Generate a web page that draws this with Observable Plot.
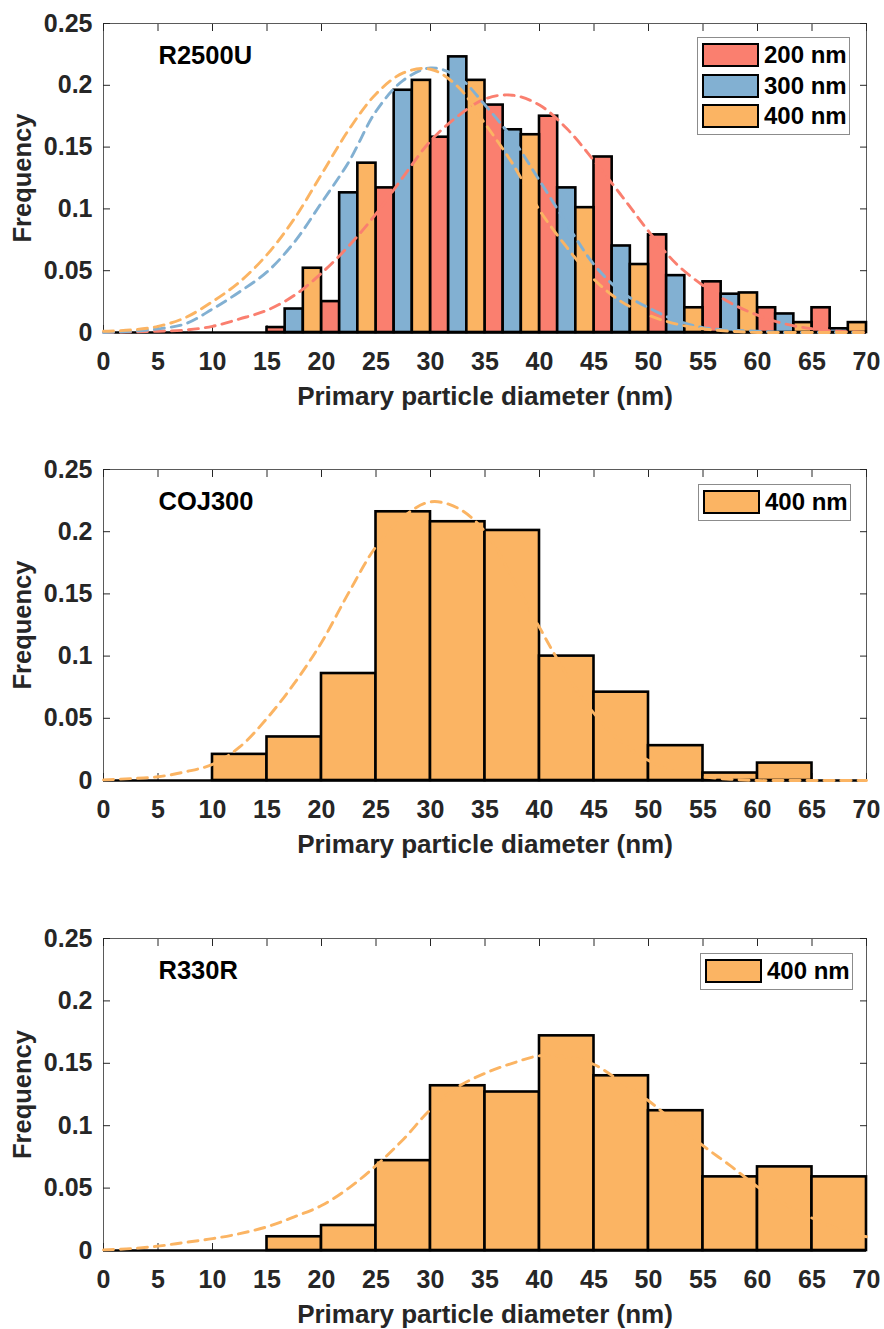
<!DOCTYPE html>
<html><head><meta charset="utf-8">
<script src="https://cdn.jsdelivr.net/npm/d3@7"></script>
<script src="https://cdn.jsdelivr.net/npm/@observablehq/plot@0.6"></script>
<style>
body{margin:0;background:#fff;}
#root{position:relative;width:884px;height:1329px;font-family:"Liberation Sans",Arial,Helvetica,sans-serif;}
.panel{position:relative;width:884px;}
.panel svg{display:block;overflow:visible;}
.legend{position:absolute;background:#fff;border:1px solid #8c8c8c;box-sizing:border-box;padding:2px 0 2px 4px;width:153px;}
.legend .item{display:flex;align-items:center;height:30.5px;}
.legend .sw{width:57px;height:24px;border:2.5px solid #000;box-sizing:border-box;margin-right:5px;flex:none;}
.legend .lab{font-weight:bold;font-size:24px;color:#000;white-space:nowrap;}
</style></head>
<body><div id="root"></div>
<script>
// ---- data ----
const binStarts = [0,5,10,15,20,25,30,35,40,45,50,55,60,65];
const seriesNames = ["200 nm","300 nm","400 nm"];
const seriesColors = ["#FA7F6F","#82B0D2","#FBB463"];
const panelNames = ["R2500U","COJ300","R330R"];

const r2500u200 = [0,0,0,0.004,0.025,0.117,0.158,0.184,0.175,0.142,0.079,0.041,0.020,0.020];
const r2500u300 = [0,0,0,0.019,0.113,0.196,0.223,0.164,0.117,0.070,0.046,0.031,0.015,0.003];
const r2500u400 = [0,0,0,0.052,0.137,0.204,0.204,0.160,0.101,0.055,0.020,0.032,0.008,0.008];
const coj300_400 = [0,0,0.021,0.035,0.086,0.216,0.208,0.201,0.100,0.071,0.028,0.006,0.014,0];
const r330r400 = [0,0,0,0.011,0.020,0.072,0.132,0.127,0.172,0.140,0.112,0.059,0.067,0.059];

const curveX = [0,2.5,5,7.5,10,12.5,15,17.5,20,22.5,25,27.5,30,32.5,35,37.5,40,42.5,45,47.5,50,52.5,55,57.5,60,62.5,65,67.5,70];
const r2500uFit200 = [0.000,0.0005,0.001,0.002,0.005,0.011,0.018,0.030,0.048,0.070,0.096,0.126,0.155,0.175,0.189,0.192,0.184,0.165,0.139,0.111,0.082,0.056,0.038,0.024,0.014,0.007,0.003,0.001,0.000];
const r2500uFit300 = [0.000,0.001,0.003,0.007,0.019,0.033,0.049,0.073,0.105,0.138,0.179,0.204,0.214,0.207,0.184,0.157,0.123,0.088,0.055,0.033,0.020,0.010,0.004,0.002,0.001,0.000,0.000,0.000,0.000];
const r2500uFit400 = [0.001,0.002,0.005,0.012,0.025,0.041,0.063,0.092,0.128,0.164,0.193,0.210,0.213,0.199,0.169,0.137,0.099,0.069,0.043,0.025,0.014,0.007,0.003,0.001,0.000,0.000,0.000,0.000,0.000];
const coj300Fit400 = [0.0005,0.0015,0.003,0.007,0.013,0.027,0.050,0.078,0.111,0.151,0.188,0.212,0.224,0.219,0.200,0.163,0.123,0.085,0.054,0.031,0.016,0.007,0.003,0.001,0.000,0.000,0.000,0.000,0.000];
const r330rFit400 = [0.0005,0.0015,0.0035,0.0065,0.0095,0.0135,0.019,0.027,0.036,0.050,0.068,0.089,0.113,0.131,0.142,0.150,0.156,0.155,0.149,0.135,0.120,0.102,0.084,0.068,0.051,0.037,0.026,0.017,0.011];

const xTicks = [0,5,10,15,20,25,30,35,40,45,50,55,60,65,70];
const xTickLabels = ["0","5","10","15","20","25","30","35","40","45","50","55","60","65","70"];
const yTicks = [0,0.05,0.1,0.15,0.2,0.25];
const yTickLabels = ["0","0.05","0.1","0.15","0.2","0.25"];
const xLabel = "Primary particle diameter (nm)";
const yLabel = "Frequency";

// ---- panels ----
const panels = [
  {name: panelNames[0], height: 422, mt: 23, mb: 90, legendLeft: 697, legendTop: 37,
   series: [
     {name: seriesNames[0], color: seriesColors[0], values: r2500u200, fit: r2500uFit200},
     {name: seriesNames[1], color: seriesColors[1], values: r2500u300, fit: r2500uFit300},
     {name: seriesNames[2], color: seriesColors[2], values: r2500u400, fit: r2500uFit400}]},
  {name: panelNames[1], height: 448, mt: 47, mb: 90, legendLeft: 698, legendTop: 62,
   series: [{name: seriesNames[2], color: seriesColors[2], values: coj300_400, fit: coj300Fit400}]},
  {name: panelNames[2], height: 459, mt: 68, mb: 79, legendLeft: 700, legendTop: 83,
   series: [{name: seriesNames[2], color: seriesColors[2], values: r330r400, fit: r330rFit400}]}
];

const root = document.getElementById("root");
const binW = binStarts[1] - binStarts[0];
const font = '"Liberation Sans", Arial, Helvetica, sans-serif';

for (const p of panels) {
  const n = p.series.length;
  const bars = [];
  p.series.forEach((s, si) => {
    s.values.forEach((v, i) => {
      const x1 = binStarts[i] + si * binW / n;
      bars.push({x1, x2: x1 + binW / n, y: v, color: s.color});
    });
  });
  const curveMarks = p.series.map(s => Plot.line(curveX.map((x, i) => ({x, y: s.fit[i]})), {
    x: "x", y: "y", stroke: s.color, strokeWidth: 2.9, strokeDasharray: "10 7", curve: "catmull-rom"
  }));

  const chart = Plot.plot({
    width: 884, height: p.height,
    marginLeft: 103, marginRight: 18, marginTop: p.mt, marginBottom: p.mb,
    style: {fontFamily: font, fontSize: "25px", fontWeight: "bold", color: "#262626", background: "transparent", overflow: "visible"},
    x: {domain: [0, 70]},
    y: {domain: [0, 0.25]},
    marks: [
      Plot.frame({stroke: "#5a5a5a", strokeWidth: 1}),
      Plot.axisX({anchor: "bottom", ticks: xTicks, tickSize: -7, tickPadding: 27, label: null,
        tickFormat: d => xTickLabels[xTicks.indexOf(d)]}),
      Plot.axisX({anchor: "top", ticks: xTicks, tickSize: -7, label: null, tickFormat: () => ""}),
      Plot.axisY({anchor: "left", ticks: yTicks, tickSize: -7, tickPadding: 18, label: null,
        tickFormat: d => yTickLabels[yTicks.indexOf(d)]}),
      Plot.axisY({anchor: "right", ticks: yTicks, tickSize: -7, label: null, tickFormat: () => ""}),
      Plot.rect(bars, {x1: "x1", x2: "x2", y1: 0, y2: "y", fill: "color", stroke: "black", strokeWidth: 2.6}),
      Plot.ruleY([0], {stroke: "black", strokeWidth: 2.6}),
      ...curveMarks,
      Plot.text([p.name], {frameAnchor: "top-left", dx: 55, dy: 32, textAnchor: "start", lineAnchor: "middle",
        fill: "black", fontSize: 25.5, fontWeight: "bold"}),
      Plot.text([xLabel], {frameAnchor: "bottom", dy: 64, lineAnchor: "middle", fill: "#262626", fontSize: 26, fontWeight: "bold"}),
      Plot.text([yLabel], {frameAnchor: "left", dx: -81, rotate: -90, lineAnchor: "middle", textAnchor: "middle", fill: "#262626", fontSize: 25.5, fontWeight: "bold"})
    ]
  });

  const div = document.createElement("div");
  div.className = "panel";
  div.style.height = p.height + "px";
  div.appendChild(chart);

  const leg = document.createElement("div");
  leg.className = "legend";
  leg.style.left = p.legendLeft + "px";
  leg.style.top = p.legendTop + "px";
  for (const s of p.series) {
    const it = document.createElement("div");
    it.className = "item";
    const sw = document.createElement("span");
    sw.className = "sw";
    sw.style.background = s.color;
    const lab = document.createElement("span");
    lab.className = "lab";
    lab.textContent = s.name;
    it.appendChild(sw); it.appendChild(lab);
    leg.appendChild(it);
  }
  div.appendChild(leg);
  root.appendChild(div);
}
</script>
</body></html>
